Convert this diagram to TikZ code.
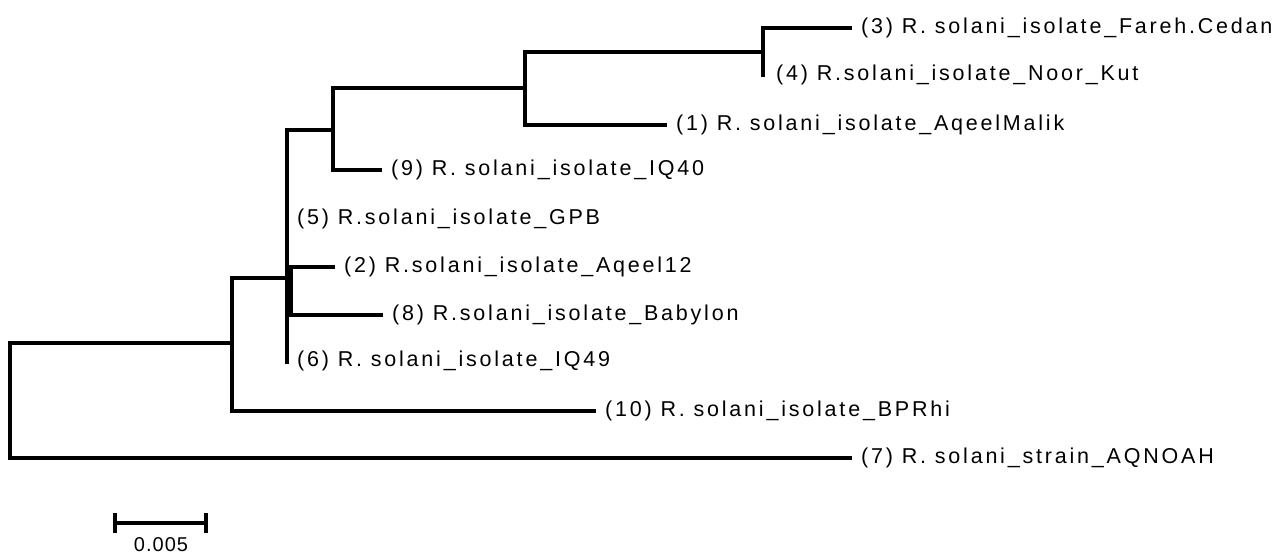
\documentclass[tikz,border=0pt]{standalone}
\usepackage{fontspec}
\setmainfont{Liberation Sans}[LetterSpace=13]
\newfontfamily\scalefont{Liberation Sans}[LetterSpace=5]
\begin{document}
\begin{tikzpicture}[x=1pt,y=-1pt,
  branch/.style={line width=3.2pt,line join=miter},
  leaf/.style={anchor=west,inner xsep=9pt,inner ysep=0pt,font=\fontsize{21.5}{22}\selectfont,text height=15.6pt,text depth=4.5pt},
  zleaf/.style={leaf,inner xsep=0pt}]
\useasboundingbox (0,0) rectangle (1275,553);
% internal nodes
\coordinate (R) at (10,400);
\coordinate (A) at (232,343);
\coordinate (B) at (287,278);
\coordinate (C) at (333,130);
\coordinate (D) at (525,88);
\coordinate (E) at (763,52);
\coordinate (F) at (291,291);
% leaves
\node[leaf] (l3) at (852,28) {(3) R. solani\_isolate\_Fareh.Cedan};
\node[zleaf] (l4) at (776,75) {(4) R.solani\_isolate\_Noor\_Kut};
\node[leaf] (l1) at (667,125) {(1) R. solani\_isolate\_AqeelMalik};
\node[leaf] (l9) at (382,170) {(9) R. solani\_isolate\_IQ40};
\node[zleaf] (l5) at (297,219) {(5) R.solani\_isolate\_GPB};
\node[leaf] (l2) at (335,267) {(2) R.solani\_isolate\_Aqeel12};
\node[leaf] (l8) at (383,315) {(8) R.solani\_isolate\_Babylon};
\node[zleaf] (l6) at (297,361) {(6) R. solani\_isolate\_IQ49};
\node[leaf] (l10) at (596,411) {(10) R. solani\_isolate\_BPRhi};
\node[leaf] (l7) at (852,458) {(7) R. solani\_strain\_AQNOAH};
% branches
\draw[branch] (R) |- (A);
\draw[branch] (R) |- (l7.west);
\draw[branch] (A) |- (B);
\draw[branch] (A) |- (l10.west);
\draw[branch] (B) |- (C);
\draw[branch] (B) -- (B |- 0,364);
\draw[branch] (B) -- (F);
\draw[branch] (F) |- (l2.west);
\draw[branch] (F) |- (l8.west);
\draw[branch] (C) |- (D);
\draw[branch] (C) |- (l9.west);
\draw[branch] (D) |- (E);
\draw[branch] (D) |- (l1.west);
\draw[branch] (E) |- (l3.west);
\draw[branch] (E) -- (E |- 0,77);
% scale bar
\coordinate (s1) at (115,523);
\coordinate (s2) at (206,523);
\draw[branch] (s1) -- (s2);
\draw[branch] ([yshift=-10pt]s1) -- ([yshift=10pt]s1);
\draw[branch] ([yshift=-10pt]s2) -- ([yshift=10pt]s2);
\node[anchor=base,inner sep=0pt,font=\scalefont\fontsize{20}{20}\selectfont] (sl) at (161,551) {0.005};
\end{tikzpicture}
\end{document}
